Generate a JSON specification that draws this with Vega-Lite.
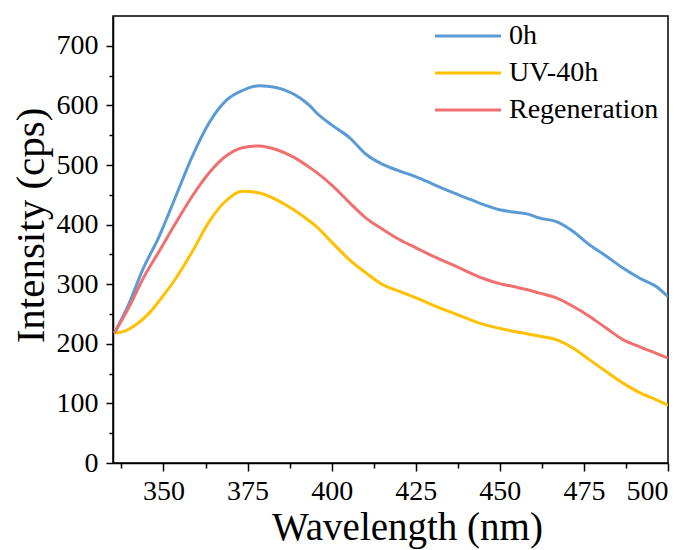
{
  "$schema": "https://vega.github.io/schema/vega-lite/v6.json",
  "autosize": {"type": "none"},
  "width": 555,
  "height": 447,
  "padding": {"left": 113, "top": 16, "right": 28, "bottom": 87},
  "background": "white",
  "config": {
    "view": {"stroke": "black", "strokeWidth": 1.5},
    "font": "Liberation Serif",
    "axis": {
      "domainColor": "black", "domainWidth": 1.5, "tickColor": "black", "tickWidth": 1.5,
      "labelColor": "black", "titleColor": "black", "labelFont": "Liberation Serif", "titleFont": "Liberation Serif",
      "labelFontSize": 28, "titleFontWeight": "normal", "grid": false
    }
  },
  "data": {"values": [
    {"s": "0h", "x": 335.4, "y": 218},
    {"s": "0h", "x": 339.8, "y": 268},
    {"s": "0h", "x": 343.8, "y": 324},
    {"s": "0h", "x": 348.7, "y": 380},
    {"s": "0h", "x": 353.7, "y": 448},
    {"s": "0h", "x": 358.6, "y": 515},
    {"s": "0h", "x": 363.6, "y": 571},
    {"s": "0h", "x": 368.6, "y": 608},
    {"s": "0h", "x": 373.5, "y": 625},
    {"s": "0h", "x": 378.5, "y": 633},
    {"s": "0h", "x": 383.5, "y": 630},
    {"s": "0h", "x": 388.4, "y": 620},
    {"s": "0h", "x": 393.4, "y": 600},
    {"s": "0h", "x": 395.4, "y": 588},
    {"s": "0h", "x": 400.3, "y": 566},
    {"s": "0h", "x": 405.3, "y": 546},
    {"s": "0h", "x": 410.2, "y": 518},
    {"s": "0h", "x": 415.2, "y": 501},
    {"s": "0h", "x": 420.1, "y": 490},
    {"s": "0h", "x": 425.1, "y": 480},
    {"s": "0h", "x": 430.1, "y": 468},
    {"s": "0h", "x": 435.0, "y": 456},
    {"s": "0h", "x": 440.0, "y": 445},
    {"s": "0h", "x": 444.9, "y": 434},
    {"s": "0h", "x": 449.9, "y": 425},
    {"s": "0h", "x": 454.0, "y": 421},
    {"s": "0h", "x": 458.0, "y": 418},
    {"s": "0h", "x": 461.8, "y": 411},
    {"s": "0h", "x": 466.8, "y": 405},
    {"s": "0h", "x": 471.7, "y": 389},
    {"s": "0h", "x": 476.7, "y": 366},
    {"s": "0h", "x": 481.7, "y": 347},
    {"s": "0h", "x": 486.6, "y": 327},
    {"s": "0h", "x": 491.6, "y": 310},
    {"s": "0h", "x": 496.5, "y": 296},
    {"s": "0h", "x": 500.0, "y": 279},
    {"s": "UV-40h", "x": 335.4, "y": 218},
    {"s": "UV-40h", "x": 337.8, "y": 220},
    {"s": "UV-40h", "x": 341.8, "y": 232},
    {"s": "UV-40h", "x": 345.7, "y": 251},
    {"s": "UV-40h", "x": 349.7, "y": 279},
    {"s": "UV-40h", "x": 353.7, "y": 310},
    {"s": "UV-40h", "x": 358.6, "y": 355},
    {"s": "UV-40h", "x": 363.6, "y": 405},
    {"s": "UV-40h", "x": 368.6, "y": 440},
    {"s": "UV-40h", "x": 373.5, "y": 456},
    {"s": "UV-40h", "x": 378.5, "y": 453},
    {"s": "UV-40h", "x": 383.5, "y": 442},
    {"s": "UV-40h", "x": 388.4, "y": 426},
    {"s": "UV-40h", "x": 393.4, "y": 406},
    {"s": "UV-40h", "x": 395.4, "y": 397},
    {"s": "UV-40h", "x": 400.3, "y": 369},
    {"s": "UV-40h", "x": 405.3, "y": 341},
    {"s": "UV-40h", "x": 410.2, "y": 319},
    {"s": "UV-40h", "x": 415.2, "y": 299},
    {"s": "UV-40h", "x": 420.1, "y": 288},
    {"s": "UV-40h", "x": 425.1, "y": 277},
    {"s": "UV-40h", "x": 430.1, "y": 265},
    {"s": "UV-40h", "x": 435.0, "y": 254},
    {"s": "UV-40h", "x": 440.0, "y": 243},
    {"s": "UV-40h", "x": 444.9, "y": 233},
    {"s": "UV-40h", "x": 449.9, "y": 226},
    {"s": "UV-40h", "x": 454.0, "y": 221},
    {"s": "UV-40h", "x": 458.0, "y": 217},
    {"s": "UV-40h", "x": 461.8, "y": 213},
    {"s": "UV-40h", "x": 466.8, "y": 207},
    {"s": "UV-40h", "x": 471.7, "y": 193},
    {"s": "UV-40h", "x": 476.7, "y": 173},
    {"s": "UV-40h", "x": 481.7, "y": 153},
    {"s": "UV-40h", "x": 486.6, "y": 134},
    {"s": "UV-40h", "x": 491.6, "y": 118},
    {"s": "UV-40h", "x": 496.5, "y": 106},
    {"s": "UV-40h", "x": 500.0, "y": 97},
    {"s": "Regeneration", "x": 335.4, "y": 218},
    {"s": "Regeneration", "x": 339.8, "y": 262},
    {"s": "Regeneration", "x": 343.8, "y": 308},
    {"s": "Regeneration", "x": 348.7, "y": 355},
    {"s": "Regeneration", "x": 353.7, "y": 403},
    {"s": "Regeneration", "x": 358.6, "y": 448},
    {"s": "Regeneration", "x": 363.6, "y": 487},
    {"s": "Regeneration", "x": 368.6, "y": 515},
    {"s": "Regeneration", "x": 373.5, "y": 529},
    {"s": "Regeneration", "x": 378.5, "y": 532},
    {"s": "Regeneration", "x": 383.5, "y": 526},
    {"s": "Regeneration", "x": 388.4, "y": 514},
    {"s": "Regeneration", "x": 393.4, "y": 496},
    {"s": "Regeneration", "x": 395.4, "y": 488},
    {"s": "Regeneration", "x": 400.3, "y": 465},
    {"s": "Regeneration", "x": 405.3, "y": 437},
    {"s": "Regeneration", "x": 410.2, "y": 411},
    {"s": "Regeneration", "x": 415.2, "y": 392},
    {"s": "Regeneration", "x": 420.1, "y": 375},
    {"s": "Regeneration", "x": 425.1, "y": 361},
    {"s": "Regeneration", "x": 430.1, "y": 347},
    {"s": "Regeneration", "x": 435.0, "y": 335},
    {"s": "Regeneration", "x": 440.0, "y": 322},
    {"s": "Regeneration", "x": 444.9, "y": 310},
    {"s": "Regeneration", "x": 449.9, "y": 301},
    {"s": "Regeneration", "x": 454.0, "y": 296},
    {"s": "Regeneration", "x": 458.0, "y": 291},
    {"s": "Regeneration", "x": 461.8, "y": 285},
    {"s": "Regeneration", "x": 466.8, "y": 277},
    {"s": "Regeneration", "x": 471.7, "y": 263},
    {"s": "Regeneration", "x": 476.7, "y": 246},
    {"s": "Regeneration", "x": 481.7, "y": 226},
    {"s": "Regeneration", "x": 486.6, "y": 207},
    {"s": "Regeneration", "x": 491.6, "y": 195},
    {"s": "Regeneration", "x": 496.5, "y": 184},
    {"s": "Regeneration", "x": 500.0, "y": 176}
  ]},
  "layer": [
    {
      "mark": {"type": "line", "strokeWidth": 3, "clip": true, "interpolate": "monotone"},
      "encoding": {
        "x": {"field": "x", "type": "quantitative",
          "scale": {"domain": [335, 500], "nice": false, "zero": false},
          "axis": {"orient": "bottom", "values": [350, 375, 400, 425, 450, 475, 500], "tickSize": 8, "labelPadding": 6, "title": "Wavelength (nm)", "titleFontSize": 39, "titlePadding": 3, "titleX": 294}},
        "y": {"field": "y", "type": "quantitative",
          "scale": {"domain": [0, 750], "nice": false},
          "axis": {"orient": "left", "values": [0, 100, 200, 300, 400, 500, 600, 700], "tickSize": 7, "labelPadding": 8, "title": "Intensity (cps)", "titleFontSize": 41, "titlePadding": 4, "titleY": 209}},
        "color": {"field": "s", "type": "nominal",
          "scale": {"domain": ["0h", "UV-40h", "Regeneration"], "range": ["#5B9BD5", "#FFC000", "#F07070"]},
          "legend": {"orient": "none", "legendX": 341, "legendY": 6, "title": null, "symbolType": "M-3,0H3", "symbolSize": 484, "symbolStrokeWidth": 3, "labelFontSize": 28, "labelFont": "Liberation Serif", "labelColor": "black", "labelOffset": 27, "rowPadding": 9, "padding": 0}}
      }
    },
    {
      "mark": {"type": "line", "opacity": 0},
      "encoding": {
        "x": {"field": "x", "type": "quantitative",
          "axis": {"orient": "bottom", "values": [337.5, 362.5, 387.5, 412.5, 437.5, 462.5, 487.5], "tickSize": 5, "labels": false, "domain": false, "title": null}},
        "y": {"field": "y", "type": "quantitative",
          "axis": {"orient": "left", "values": [50, 150, 250, 350, 450, 550, 650], "tickSize": 4, "labels": false, "domain": false, "title": null}}
      }
    }
  ],
  "resolve": {"axis": {"x": "independent", "y": "independent"}}
}
